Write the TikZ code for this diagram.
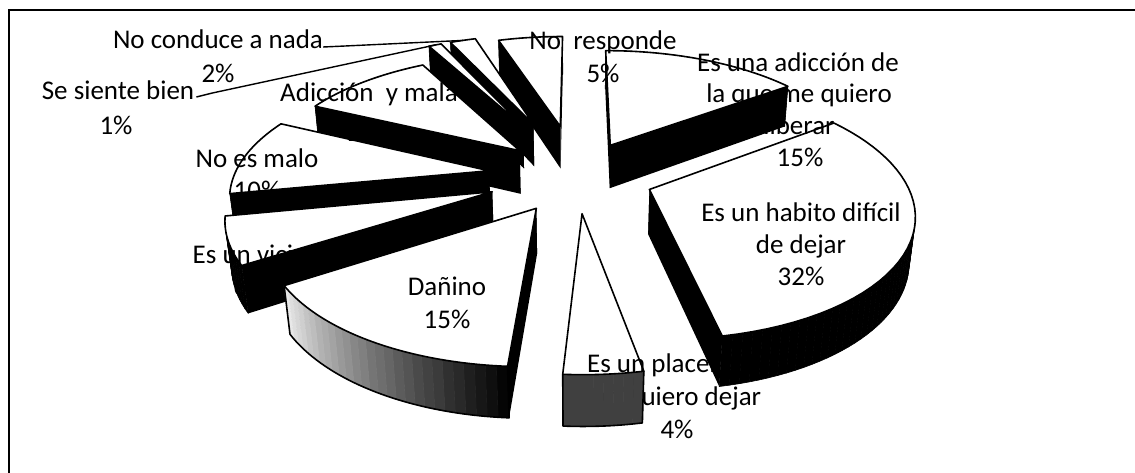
\documentclass[tikz,border=0pt]{standalone}
\usepackage{fontspec}
\setmainfont{Carlito}
\newcommand\defslice[4]{%
  \pgfmathsetmacro\tmpx{#4*sin((#2+#3)/2)}%
  \pgfmathsetmacro\tmpy{#4*cos((#2+#3)/2)}%
  \expandafter\xdef\csname slice#1\endcsname{{#2}{#3}{\tmpx}{\tmpy}}}
\defslice{AD}{0}{54}{0.3}
\defslice{HA}{54}{169.2}{0.3}
\defslice{PL}{169.2}{183.6}{0.3}
\defslice{DA}{183.6}{237.6}{0.3}
\defslice{VI}{237.6}{259.2}{0.35}
\defslice{NM}{259.2}{295.2}{0.35}
\defslice{AM}{295.2}{331.2}{0.32}
\defslice{SB}{331.2}{334.8}{0.5}
\defslice{NC}{334.8}{342}{0.5}
\defslice{NR}{342}{360}{0.45}
\def\hh{0.2}
% clip away a top face: outer frame counter-clockwise, face clockwise (nonzero rule)
\newcommand\sliceclip[4]{%
  \clip (-50,-50) -- (-50,530) -- (1200,530) -- (1200,-50) -- cycle
   ({PX(#3,#4,0)},{PY(#3,#4,0)}) -- plot[domain=#1:#2,samples=40,variable=\t]
   ({PX(#3+sin(\t),#4+cos(\t),0)},{PY(#3+sin(\t),#4+cos(\t),0)}) -- cycle;}
\newcommand\sliceline[4]{%
  \draw[pieline] ({PX(#3,#4,0)},{PY(#3,#4,0)}) -- plot[domain=#1:#2,samples=40,variable=\t]
   ({PX(#3+sin(\t),#4+cos(\t),0)},{PY(#3+sin(\t),#4+cos(\t),0)}) -- cycle;}
\newcommand\bottomline[4]{%
  \draw[pieline] ({PX(#3+sin(#1),#4+cos(#1),0)},{PY(#3+sin(#1),#4+cos(#1),0)}) -- plot[domain=#1:#2,samples=40,variable=\t]
   ({PX(#3+sin(\t),#4+cos(\t),-\hh)},{PY(#3+sin(\t),#4+cos(\t),-\hh)}) -- ({PX(#3+sin(#2),#4+cos(#2),0)},{PY(#3+sin(#2),#4+cos(#2),0)});}
\newcommand\radialface[3]{%
  \fill[black] ({PX(#2,#3,0)},{PY(#2,#3,0)}) -- ({PX(#2+sin(#1),#3+cos(#1),0)},{PY(#2+sin(#1),#3+cos(#1),0)})
   -- ({PX(#2+sin(#1),#3+cos(#1),-\hh)},{PY(#2+sin(#1),#3+cos(#1),-\hh)}) -- ({PX(#2,#3,-\hh)},{PY(#2,#3,-\hh)}) -- cycle;}
\newcommand\slicewalls[6]{%
  \radialface{#1}{#3}{#4}\radialface{#2}{#3}{#4}%
  \pgfmathtruncatemacro\nn{max(2,ceil((#2-#1)/2))}%
  \foreach \i in {1,...,\nn}{%
    \pgfmathsetmacro\ta{#1+(#2-#1)*(\i-1)/\nn}%
    \pgfmathsetmacro\tb{#1+(#2-#1)*\i/\nn}%
    \pgfmathtruncatemacro\pc{#5+(#6-#5)*(\i-0.5)/\nn}%
    \fill[black!\pc!white,draw=black!\pc!white,line width=0.6pt,line join=round]
      ({PX(#3+sin(\ta),#4+cos(\ta),0)},{PY(#3+sin(\ta),#4+cos(\ta),0)}) --
      ({PX(#3+sin(\tb),#4+cos(\tb),0)},{PY(#3+sin(\tb),#4+cos(\tb),0)}) --
      ({PX(#3+sin(\tb),#4+cos(\tb),-\hh)},{PY(#3+sin(\tb),#4+cos(\tb),-\hh)}) --
      ({PX(#3+sin(\ta),#4+cos(\ta),-\hh)},{PY(#3+sin(\ta),#4+cos(\ta),-\hh)}) -- cycle;
  }}
\newcommand\CL[1]{\expandafter\expandafter\expandafter\sliceclip\csname slice#1\endcsname}
\newcommand\OL[1]{\expandafter\expandafter\expandafter\sliceline\csname slice#1\endcsname}
\newcommand\BL[1]{\expandafter\expandafter\expandafter\bottomline\csname slice#1\endcsname}
\newcommand\WL[3]{\expandafter\expandafter\expandafter\slicewalls\csname slice#1\endcsname{#2}{#3}}
\tikzset{
  pieline/.style={draw=black,line width=1.6pt,line join=round},
  lbl/.style={inner sep=0pt,anchor=base,font=\fontsize{27}{32}\selectfont},
  leader/.style={draw=black,line width=1.4pt},
  frame/.style={draw=black,line width=2pt}
}
\begin{document}
\begin{tikzpicture}[x=1pt,y=-1pt,
  declare function={
    dep(\xa,\ya,\za)=\ya*0.883-\za*0.47+5.3;
    PX(\xa,\ya,\za)=577+1351*\xa/dep(\xa,\ya,\za);
    PY(\xa,\ya,\za)=176-1351*(\ya*0.47+\za*0.883)/dep(\xa,\ya,\za);
  }]
\useasboundingbox (0,0) rectangle (1135,473);
\draw[frame] (8,10) -- (1135,10);
\draw[frame] (9,10) -- (9,473);
% labels
\node[lbl] (nc1) at (218,49) {No conduce a nada};
\node[lbl] (nc2) at (218,83) {2\%};
\node[lbl] (sb1) at (118,100) {Se siente bien};
\node[lbl] (sb2) at (116,135) {1\%};
\node[lbl] (am1) at (369,102) {Adicción~ y mala};
\node[lbl] (am2) at (369,142) {10\%};
\node[lbl] (nm1) at (257,168) {No es malo};
\node[lbl] (nm2) at (257,200) {10\%};
\node[lbl] (vi1) at (250,263) {Es un vicio};
\node[lbl] (vi2) at (250,295) {6\%};
\node[lbl] (da1) at (447,295) {Dañino};
\node[lbl] (da2) at (447,328) {15\%};
\node[lbl] (ha1) at (801,222) {Es un habito difícil};
\node[lbl] (ha2) at (801,253) {de dejar};
\node[lbl] (ha3) at (801,285) {32\%};
\node[lbl] (ad1) at (798,72) {Es una adicción de};
\node[lbl] (ad2) at (799,103) {la que me quiero};
\node[lbl] (ad3) at (799,135) {liberar};
\node[lbl] (ad4) at (800,167) {15\%};
\node[lbl] (pl1) at (677,372) {Es un placer que};
\node[lbl] (pl2) at (677,405) {no quiero dejar};
\node[lbl] (pl3) at (677,438) {4\%};
\node[lbl] (nr1) at (603,50) {No~ responde};
\node[lbl] (nr2) at (603,83) {5\%};
% leader lines
\coordinate (eNC) at ({PX(1.5*sin(338.4),1.5*cos(338.4),0)},{PY(1.5*sin(338.4),1.5*cos(338.4),0)});
\coordinate (eSB) at ({PX(1.5*sin(333),1.5*cos(333),0)},{PY(1.5*sin(333),1.5*cos(333),0)});
\draw[leader] ([yshift=2pt]nc1.base east) -- ++(22,-1) -- (eNC);
\draw[leader] ([xshift=2pt,yshift=3pt]sb1.base east) -- ++(16,-4) -- (eSB);
% pie slices, back to front
\begin{scope}\CL{NR}\CL{NC}\CL{SB}\CL{AD}\CL{AM}\CL{NM}\CL{HA}\CL{VI}\CL{DA}\CL{PL}\WL{NR}{100}{100}\end{scope}\OL{NR}
\begin{scope}\CL{NC}\CL{SB}\CL{AD}\CL{AM}\CL{NM}\CL{HA}\CL{VI}\CL{DA}\CL{PL}\WL{NC}{100}{100}\end{scope}\OL{NC}
\begin{scope}\CL{SB}\CL{AD}\CL{AM}\CL{NM}\CL{HA}\CL{VI}\CL{DA}\CL{PL}\WL{SB}{100}{100}\end{scope}\OL{SB}
\begin{scope}\CL{AD}\CL{AM}\CL{NM}\CL{HA}\CL{VI}\CL{DA}\CL{PL}\WL{AD}{100}{100}\end{scope}\OL{AD}
\begin{scope}\CL{AM}\CL{NM}\CL{HA}\CL{VI}\CL{DA}\CL{PL}\WL{AM}{100}{100}\end{scope}\OL{AM}
\begin{scope}\CL{NM}\CL{HA}\CL{VI}\CL{DA}\CL{PL}\WL{NM}{100}{100}\end{scope}\OL{NM}
\begin{scope}\CL{HA}\CL{VI}\CL{DA}\CL{PL}\WL{HA}{100}{100}\end{scope}\OL{HA}
\begin{scope}\CL{VI}\CL{DA}\CL{PL}\WL{VI}{100}{100}\end{scope}\OL{VI}
\begin{scope}\CL{DA}\CL{PL}\WL{DA}{100}{8}\end{scope}\OL{DA}\BL{DA}
\begin{scope}\CL{PL}\WL{PL}{75}{75}\end{scope}\OL{PL}\BL{PL}
\end{tikzpicture}
\end{document}
